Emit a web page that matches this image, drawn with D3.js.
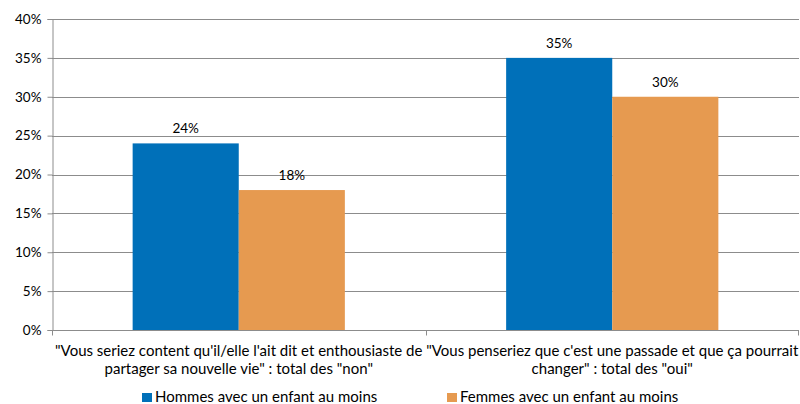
<!DOCTYPE html>
<html><head><meta charset="utf-8">
<script src="https://cdn.jsdelivr.net/npm/d3@7"></script>
<style>body{margin:0;background:#fff}svg{display:block}text{font-family:Lato,"Open Sans",sans-serif;fill:#000}</style>
</head><body><svg id="c" width="800" height="404"></svg>
<script>
const categories = [
  ["\"Vous seriez content qu'il/elle l'ait dit et enthousiaste de", "partager sa nouvelle vie\" : total des \"non\""],
  ["\"Vous penseriez que c'est une passade et que ça pourrait", "changer\" : total des \"oui\""]
];
const seriesNames = ["Hommes avec un enfant au moins", "Femmes avec un enfant au moins"];
const hommes = [24, 35];
const femmes = [18, 30];
const yTicks = [0, 5, 10, 15, 20, 25, 30, 35, 40];
const colors = ["#0070B9", "#E69A50"];

const svg = d3.select("#c");
const m = {l: 52, r: 1, t: 19, b: 74};
const W = 800, H = 404;
const x0 = d3.scaleBand().domain(d3.range(categories.length)).range([m.l, W - m.r]).paddingInner(0).paddingOuter(0);
const x1 = d3.scaleBand().domain([0, 1]).range([0, x0.bandwidth()]).paddingInner(0).paddingOuter(0.76);
const y = d3.scaleLinear().domain([0, 40]).range([H - m.b, m.t]);

// gridlines
svg.append("g").selectAll("line").data(yTicks.filter(d => d > 0)).join("line")
  .attr("x1", m.l).attr("x2", W - m.r).attr("y1", d => Math.round(y(d)) + 0.5).attr("y2", d => Math.round(y(d)) + 0.5)
  .attr("stroke", "#8c8c8c").attr("stroke-width", 1);

const series = [hommes, femmes];
const g = svg.append("g");
series.forEach((vals, si) => {
  g.selectAll(".b" + si).data(vals).join("rect")
    .attr("x", (d, i) => x0(i) + x1(si)).attr("width", x1.bandwidth())
    .attr("y", d => y(d)).attr("height", d => y(0) - y(d)).attr("fill", colors[si]);
  g.selectAll(".t" + si).data(vals).join("text")
    .attr("x", (d, i) => x0(i) + x1(si) + x1.bandwidth() / 2).attr("y", d => y(d) - 10)
    .attr("text-anchor", "middle").attr("font-size", "13.5px").text(d => d + "%");
});

// y axis
const ya = svg.append("g").attr("transform", `translate(${m.l + 0.5},0)`)
  .call(d3.axisLeft(y).tickValues(yTicks).tickFormat(d => d + "%").tickSize(5).tickPadding(6));
ya.selectAll("path,line").attr("stroke", "#8c8c8c");
ya.selectAll("text").attr("font-size", "13.5px").attr("font-family", "Lato,'Open Sans',sans-serif").attr("fill", "#000");

// x axis
const xa = svg.append("g").attr("transform", `translate(0,${Math.round(y(0)) + 0.5})`);
xa.append("line").attr("x1", m.l).attr("x2", W - m.r).attr("stroke", "#8c8c8c");
xa.selectAll(".tk").data(d3.range(categories.length + 1)).join("line")
  .attr("x1", i => Math.round(m.l + i * x0.bandwidth()) + 0.5 - (i === categories.length ? 1 : 0))
  .attr("x2", i => Math.round(m.l + i * x0.bandwidth()) + 0.5 - (i === categories.length ? 1 : 0))
  .attr("y1", 0).attr("y2", 5).attr("stroke", "#8c8c8c");
categories.forEach((lines, i) => {
  const t = svg.append("text").attr("text-anchor", "middle").attr("font-size", "15px")
    .attr("x", x0(i) + x0.bandwidth() / 2).attr("y", 356);
  lines.forEach((ln, k) => t.append("tspan").attr("x", x0(i) + x0.bandwidth() / 2).attr("dy", k ? 18 : 0).text(ln));
});

// legend
const lg = [{x: 142, name: seriesNames[0], c: colors[0]}, {x: 447, name: seriesNames[1], c: colors[1]}];
lg.forEach(d => {
  svg.append("rect").attr("x", d.x).attr("y", 393).attr("width", 10).attr("height", 9).attr("fill", d.c);
  svg.append("text").attr("x", d.x + 13).attr("y", 402).attr("font-size", "15px").text(d.name);
});
</script></body></html>
